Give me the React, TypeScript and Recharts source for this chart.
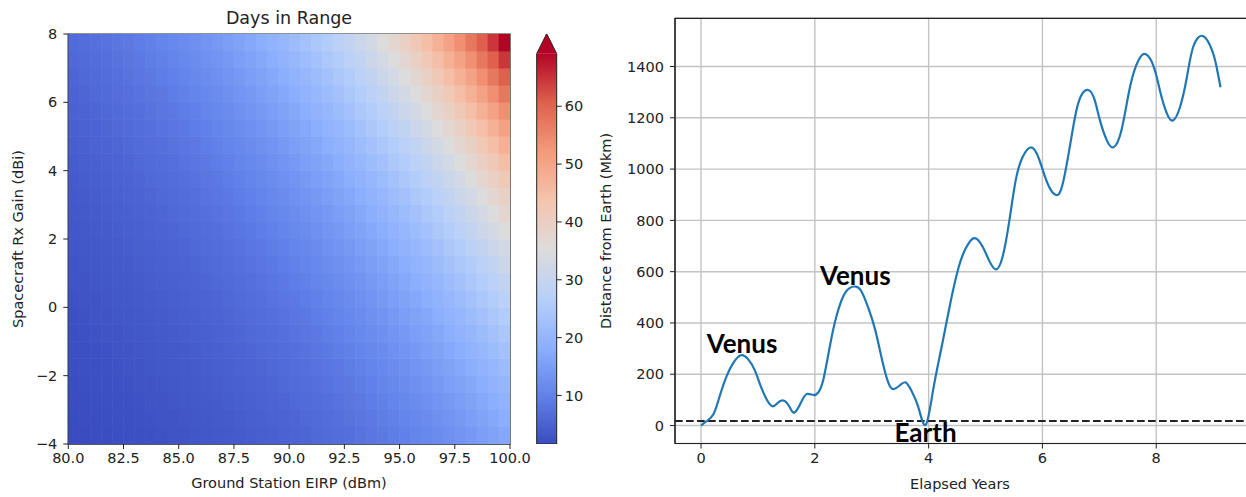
import React from "react";
import {
  ScatterChart,
  Scatter,
  XAxis,
  YAxis,
  ReferenceArea,
  BarChart,
  Bar,
  ComposedChart,
  Line,
  CartesianGrid,
  ReferenceLine,
} from "recharts";

const FONT = "'DejaVu Sans', sans-serif";
const INK = "#222";

// ── Left panel: days in range, 0.5 dB cells ──
const EIRP_CELLS = [
  80.25, 80.75, 81.25, 81.75, 82.25, 82.75, 83.25, 83.75, 84.25, 84.75,
  85.25, 85.75, 86.25, 86.75, 87.25, 87.75, 88.25, 88.75, 89.25, 89.75,
  90.25, 90.75, 91.25, 91.75, 92.25, 92.75, 93.25, 93.75, 94.25, 94.75,
  95.25, 95.75, 96.25, 96.75, 97.25, 97.75, 98.25, 98.75, 99.25, 99.75,
];
const GAIN_CELLS = [
  -3.75, -3.25, -2.75, -2.25, -1.75, -1.25, -0.75, -0.25, 0.25, 0.75, 1.25,
  1.75, 2.25, 2.75, 3.25, 3.75, 4.25, 4.75, 5.25, 5.75, 6.25, 6.75, 7.25, 7.75,
];
// days in range; they only depend on EIRP + gain,
// so the table is indexed by (eirp cell + gain cell)
const DAYS_BY_STEP = [
  1.6, 1.7, 1.8, 1.9, 2.0, 2.2, 2.3, 2.4, 2.6, 2.8,
  2.9, 3.1, 3.3, 3.5, 3.7, 4.0, 4.2, 4.5, 4.8, 5.1,
  5.4, 5.7, 6.1, 6.4, 6.9, 7.3, 7.7, 8.2, 8.7, 9.3,
  9.8, 10.5, 11.1, 11.8, 12.6, 13.3, 14.2, 15.1, 16.0, 17.0,
  18.1, 19.2, 20.4, 21.7, 23.0, 24.5, 26.0, 27.6, 29.3, 31.2,
  33.1, 35.2, 37.4, 39.7, 42.2, 44.8, 47.6, 50.6, 53.8, 57.1,
  60.7, 64.5, 72.0,
];
const EIRP_TICKS = [80, 82.5, 85, 87.5, 90, 92.5, 95, 97.5, 100];
const GAIN_TICKS = [-4, -2, 0, 2, 4, 6, 8];
const CBAR_TICKS = [10, 20, 30, 40, 50, 60];
const VMIN = 1.6;
const VMAX = 69.1;
const CBAR_TIP = 72.5;

// ── Right panel: distance from Earth ──
const YEARS = [
  0, 0.1, 0.22, 0.33, 0.45, 0.57, 0.7, 0.83, 0.95, 1.07, 1.23, 1.34, 1.46,
  1.56, 1.65, 1.77, 1.86, 1.98, 2.06, 2.15, 2.27, 2.38, 2.5, 2.61, 2.72, 2.82,
  2.94, 3.06, 3.18, 3.29, 3.38, 3.5, 3.6, 3.7, 3.82, 3.95, 4.08, 4.23, 4.38,
  4.53, 4.65, 4.8, 4.95, 5.06, 5.18, 5.3, 5.42, 5.53, 5.65, 5.8, 5.94, 6.09,
  6.24, 6.35, 6.47, 6.59, 6.7, 6.82, 6.92, 7.01, 7.13, 7.25, 7.39, 7.54, 7.69,
  7.82, 7.96, 8.07, 8.18, 8.29, 8.42, 8.54, 8.65, 8.82, 8.98, 9.06, 9.13,
];
const DISTANCES = [
  0, 17, 45, 116, 193, 245, 274, 258, 213, 142, 78, 87, 97,
  71, 52, 96, 123, 119, 129, 180, 316, 426, 504, 536, 542, 523,
  459, 374, 258, 168, 142, 158, 168, 135, 71, 3, 140, 308, 476,
  619, 690, 731, 697, 645, 609, 658, 801, 956, 1046, 1085, 1040, 944,
  899, 937, 1073, 1222, 1294, 1307, 1268, 1191, 1113, 1085, 1152, 1321, 1425,
  1448, 1397, 1302, 1221, 1189, 1243, 1360, 1477, 1519, 1464, 1399, 1319,
];
const YEAR_TICKS = [0, 2, 4, 6, 8];
const DIST_TICKS = [0, 200, 400, 600, 800, 1000, 1200, 1400];
const LIMIT_DIST = 18;
const NOTES = [
  { year: 0.1, dist: 282, text: "Venus" },
  { year: 2.09, dist: 547, text: "Venus" },
  { year: 3.4, dist: -64, text: "Earth" },
];

// coolwarm colormap
const CMAP = [
  [58, 76, 192],
  [98, 130, 234],
  [141, 176, 254],
  [184, 208, 249],
  [221, 220, 220],
  [245, 196, 173],
  [244, 154, 123],
  [222, 96, 77],
  [180, 4, 38],
];
const cmapAt = (t: number) => {
  const c = Math.max(0, Math.min(1, t)) * (CMAP.length - 1);
  const i = Math.min(CMAP.length - 2, Math.floor(c));
  const f = c - i;
  const rgb = CMAP[i].map((a, k) => Math.round(a + (CMAP[i + 1][k] - a) * f));
  return `rgb(${rgb.join(",")})`;
};
const colorFor = (v: number) => cmapAt((v - VMIN) / (VMAX - VMIN));

const heatData = GAIN_CELLS.flatMap((g, j) =>
  EIRP_CELLS.map((e, i) => ({ x: e, y: g, days: DAYS_BY_STEP[i + j] })),
);
const lineData = YEARS.map((year, i) => ({ year, dist: DISTANCES[i] }));

const fmtMinus = (v: number) => (v < 0 ? `\u2212${Math.abs(v)}` : `${v}`);

// heatmap geometry
const HM_W = 560;
const HM_H = 497;
const HM_M = { top: 34, right: 50, bottom: 23, left: 18.3 };
const HM_YAXIS = 50;
const HM_XAXIS = 30;
const CELL_W = (HM_W - HM_M.left - HM_M.right - HM_YAXIS) / EIRP_CELLS.length;
const CELL_H = (HM_H - HM_M.top - HM_M.bottom - HM_XAXIS) / GAIN_CELLS.length;

const tickStyle = { fontSize: 14.5, fill: INK, fontFamily: FONT };

const HeatCell = (props: any) => {
  const { cx, cy, payload } = props;
  return (
    <rect
      x={cx - CELL_W / 2 - 0.3}
      y={cy - CELL_H / 2 - 0.3}
      width={CELL_W + 0.6}
      height={CELL_H + 0.6}
      fill={colorFor(payload.days)}
    />
  );
};

const ColorBarShape = (props: any) => {
  const { x, y, width, height } = props;
  const tip = y - width;
  return (
    <g>
      <defs>
        <linearGradient id="cbGrad" x1="0" y1="1" x2="0" y2="0">
          {CMAP.map((_, i) => (
            <stop
              key={i}
              offset={i / (CMAP.length - 1)}
              stopColor={cmapAt(i / (CMAP.length - 1))}
            />
          ))}
        </linearGradient>
      </defs>
      <rect x={x} y={y} width={width} height={height} fill="url(#cbGrad)" />
      <polygon
        points={`${x},${y} ${x + width / 2},${tip} ${x + width},${y}`}
        fill={cmapAt(1)}
      />
      <path
        d={`M${x},${y + height} L${x},${y} L${x + width / 2},${tip} L${x + width},${y} L${x + width},${y + height} Z`}
        fill="none"
        stroke={INK}
        strokeWidth={1}
      />
    </g>
  );
};

const NoteText = (props: any) => {
  const { cx, cy, payload } = props;
  return (
    <text
      x={cx}
      y={cy}
      fontFamily="Lato, 'Open Sans', sans-serif"
      fontWeight={700}
      fontSize={26}
      fill="#000"
    >
      {payload.text}
    </text>
  );
};

const label = (
  text: string,
  cx: number,
  cy: number,
  size: number,
  rotate = false,
) => (
  <div
    style={{
      position: "absolute",
      left: cx - 200,
      top: cy - 12,
      width: 400,
      height: 24,
      lineHeight: "24px",
      textAlign: "center",
      fontSize: size,
      fontFamily: FONT,
      color: INK,
      whiteSpace: "nowrap",
      transform: rotate ? "rotate(-90deg)" : undefined,
    }}
  >
    {text}
  </div>
);

export default function App() {
  return (
    <div
      style={{
        position: "absolute",
        left: 0,
        top: 0,
        width: 1246,
        height: 497,
        overflow: "hidden",
        background: "#fff",
      }}
    >
      {/* ── heatmap ── */}
      <div style={{ position: "absolute", left: 0, top: 0 }}>
        <ScatterChart width={HM_W} height={HM_H} margin={HM_M}>
          <XAxis
            type="number"
            dataKey="x"
            domain={[80, 100]}
            ticks={EIRP_TICKS}
            tickFormatter={(v: number) => v.toFixed(1)}
            allowDataOverflow
            height={HM_XAXIS}
            tick={tickStyle}
            tickSize={5}
            tickMargin={4}
            tickLine={{ stroke: INK }}
            axisLine={{ stroke: INK }}
          />
          <YAxis
            type="number"
            dataKey="y"
            domain={[-4, 8]}
            ticks={GAIN_TICKS}
            tickFormatter={fmtMinus}
            allowDataOverflow
            width={HM_YAXIS}
            tick={tickStyle}
            tickSize={5}
            tickMargin={6}
            tickLine={{ stroke: INK }}
            axisLine={{ stroke: INK }}
          />
          <Scatter data={heatData} shape={HeatCell} isAnimationActive={false} />
          <ReferenceArea
            x1={80}
            x2={100}
            y1={-4}
            y2={8}
            fill="none"
            fillOpacity={0}
            stroke={INK}
            strokeWidth={1.2}
          />
        </ScatterChart>
      </div>

      {/* ── colour bar ── */}
      <div style={{ position: "absolute", left: 530, top: 0 }}>
        <BarChart
          width={90}
          height={497}
          data={[{ k: "cb", range: [VMIN, VMAX] }]}
          margin={{ top: 34, right: 13.3, bottom: 53, left: 6.7 }}
          barCategoryGap={0}
        >
          <XAxis dataKey="k" hide />
          <YAxis
            orientation="right"
            type="number"
            domain={[VMIN, CBAR_TIP]}
            ticks={CBAR_TICKS}
            allowDataOverflow
            width={50}
            tick={tickStyle}
            tickSize={5}
            tickMargin={3}
            tickLine={{ stroke: INK }}
            axisLine={false}
          />
          <Bar dataKey="range" shape={ColorBarShape} isAnimationActive={false} />
        </BarChart>
      </div>

      {/* ── distance chart ── */}
      <div style={{ position: "absolute", left: 600, top: 0 }}>
        <ComposedChart
          width={660}
          height={497}
          data={lineData}
          margin={{ top: 18.3, right: 12.3, bottom: 23.5, left: 15 }}
        >
          <CartesianGrid stroke="#c3c3c3" strokeWidth={1.4} />
          <XAxis
            type="number"
            dataKey="year"
            domain={[-0.4575, 9.6075]}
            ticks={YEAR_TICKS}
            allowDataOverflow
            height={30}
            tick={tickStyle}
            tickSize={5}
            tickMargin={4}
            tickLine={{ stroke: INK }}
            axisLine={{ stroke: INK }}
          />
          <YAxis
            type="number"
            domain={[-70, 1588]}
            ticks={DIST_TICKS}
            allowDataOverflow
            width={60}
            tick={tickStyle}
            tickSize={5}
            tickMargin={6}
            tickLine={{ stroke: INK }}
            axisLine={{ stroke: INK }}
          />
          <ReferenceLine
            y={LIMIT_DIST}
            stroke={INK}
            strokeWidth={2}
            strokeDasharray="7.7 3.3"
          />
          <Line
            type="natural"
            dataKey="dist"
            stroke="#1f77b4"
            strokeWidth={2.2}
            dot={false}
            isAnimationActive={false}
          />
          <Scatter
            data={NOTES}
            dataKey="dist"
            shape={NoteText}
            isAnimationActive={false}
          />
          <ReferenceArea
            x1={-0.4575}
            x2={9.6075}
            y1={-70}
            y2={1588}
            fill="none"
            fillOpacity={0}
            stroke={INK}
            strokeWidth={1.2}
          />
        </ComposedChart>
      </div>

      {label("Days in Range", 289, 17.5, 17.5)}
      {label("Ground Station EIRP (dBm)", 289, 483, 14.5)}
      {label("Spacecraft Rx Gain (dBi)", 18.4, 239, 14.5, true)}
      {label("Elapsed Years", 960, 484, 14.5)}
      {label("Distance from Earth (Mkm)", 606, 231, 14.5, true)}
    </div>
  );
}
